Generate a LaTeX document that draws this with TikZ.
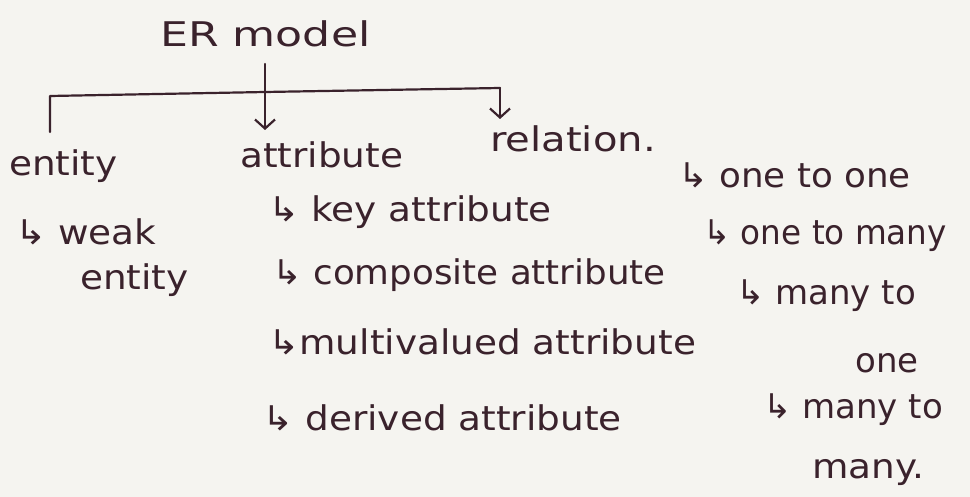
\documentclass[tikz,border=0pt]{standalone}
\usepackage{fontspec}
\setmainfont{DejaVu Sans}
\newfontfamily\fsE[FakeStretch=0.96]{DejaVu Sans}
\newfontfamily\fsA[FakeStretch=1.05]{DejaVu Sans}
\newfontfamily\fsB[FakeStretch=1.1]{DejaVu Sans}
\newfontfamily\fsC[FakeStretch=1.18]{DejaVu Sans}
\newfontfamily\fsD[FakeStretch=1.3]{DejaVu Sans}
\usetikzlibrary{arrows.meta}
\definecolor{ink}{RGB}{58,34,44}
\definecolor{paper}{RGB}{245,244,240}
\tikzset{
  txt/.style={anchor=base west, inner sep=0pt, text=ink, font=\fontsize{34}{40}\selectfont},
  ln/.style={draw=ink, line width=2.2pt, line cap=round, line join=round},
  arr/.style={ln, -{Straight Barb[length=9pt,width=20pt,line width=2.2pt]}}
}
\begin{document}
\begin{tikzpicture}[x=1pt,y=-1pt]
\fill[paper] (0,0) rectangle (970,497);
\useasboundingbox (0,0) rectangle (970,497);
% headings
\node[txt] (er) at (160,47) {\fsD ER model};
\node[txt] (ent) at (9,176) {\fsB entity};
\node[txt] (att) at (240,168) {\fsB attribute};
\node[txt] (rel) at (490,152) {\fsC relation.};
% entity
\node[txt] (weak) at (15,245) {\fsB ↳ weak};
\node[txt] (weak2) at (80,290) {\fsB entity};
% attribute
\node[txt] (key) at (268,222) {\fsB ↳ key attribute};
\node[txt] (comp) at (272,285) {\fsA ↳ composite attribute};
\node[txt] (multi) at (268,355) {\fsB ↳multivalued attribute};
\node[txt] (der) at (262,430) {\fsB ↳ derived attribute};
% relation
\node[txt] (oo) at (678,188) {\fsA ↳ one to one};
\node[txt] (om) at (703,245) {\fsE ↳ one to many};
\node[txt] (mo) at (736,305) {↳ many to};
\node[txt] (mo2) at (855,372) {one};
\node[txt] (mm) at (763,418) {↳ many to};
\node[txt] (mm2) at (812,478) {\fsB many.};
% bracket
\coordinate (top) at (265,64);
\coordinate (jl) at (50,96);
\coordinate (jm) at (265,92);
\coordinate (jr) at (500,88);
\coordinate (lend) at (50,132);
\coordinate (mend) at (265,130);
\coordinate (rend) at (500,119);
\draw[ln] (lend) -- (jl) -- (jm) -- (jr);
\draw[arr] (top) -- (mend);
\draw[arr] (jr) -- (rend);
\end{tikzpicture}
\end{document}
